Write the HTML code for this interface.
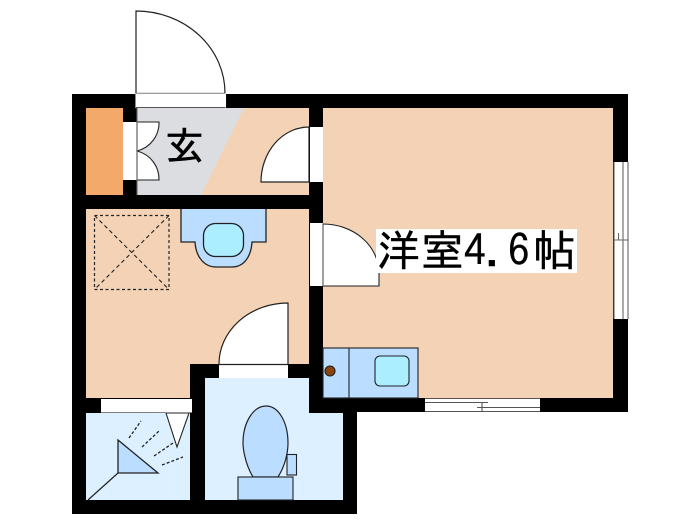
<!DOCTYPE html>
<html><head><meta charset="utf-8"><style>
html,body{margin:0;padding:0;background:#fff}
svg{display:block}
text{font-family:"Liberation Sans","IPAGothic","Noto Sans CJK JP",sans-serif}
</style></head><body>
<svg width="700" height="525" viewBox="0 0 700 525" xmlns="http://www.w3.org/2000/svg">
<rect width="700" height="525" fill="#fff"/>
<!-- walls -->
<polygon points="72,94 628,94 628,412 357,412 357,514 72,514" fill="#000"/>
<!-- rooms -->
<rect x="86" y="108" width="37" height="87" fill="#f3a96a"/>
<rect x="137" y="108" width="172" height="87" fill="#f3d2b5"/>
<polygon points="137,108 244,108 201,195 137,195" fill="#dcdde0"/>
<polygon points="86,209 309,209 309,364 190,364 190,398 86,398" fill="#f3d2b5"/>
<rect x="323" y="108" width="290" height="290" fill="#f3d2b5"/>
<rect x="86" y="413" width="104" height="87" fill="#ddf0ff"/>
<polygon points="205,378 309,378 309,413 343,413 343,500 205,500" fill="#ddf0ff"/>
<g stroke="#222" fill="none" stroke-width="1.100">
<!-- entrance door -->
<path d="M136,93.500 V11 A89,82 0 0 1 225,93.500 Z" fill="#fff" stroke-width="1.200"/>
<rect x="136" y="94" width="89.500" height="13.500" fill="#fff" stroke="#fff"/>
<path d="M136,107.500 H225.500" stroke="#555"/>
<!-- closet door -->
<rect x="123" y="122" width="14" height="58" fill="#fff" stroke="none"/>
<path d="M137,122 H159 A29,29 0 0 1 137,151 Z" fill="#fff"/>
<path d="M137,180 H159 A29,29 0 0 0 137,151 Z" fill="#fff"/>
<path d="M137,108 V195" stroke="#666"/>
<!-- hall door -->
<rect x="310" y="127" width="13" height="55" fill="#fff" stroke="none"/>
<path d="M309,127 A48,55 0 0 0 261,182 H309 Z" fill="#fff" stroke-width="1.200"/>
<!-- room door -->
<rect x="310" y="223" width="13" height="63" fill="#fff" stroke="none"/>
<path d="M323,224 A56,49 0 0 1 379,273 V286 H323 Z" fill="#fff"/>
<path d="M323,224 V286" stroke="#666"/>
<!-- washroom door -->
<rect x="219" y="365" width="69" height="13" fill="#fff" stroke="none"/>
<path d="M288,303 A69,61 0 0 0 219,364.500 H288 Z" fill="#fff" stroke-width="1.200"/>
<!-- bath door -->
<rect x="101" y="399" width="91" height="13.500" fill="#fff" stroke="none"/>
<!-- vanity -->
<path d="M181,209 V242 H195 C196,258 205,267 216,267 H232 C243,267 251,258 252,242 H266 V209" fill="#bbddff" stroke-width="1.300"/>
<rect x="203.500" y="223.500" width="40" height="33" rx="12" fill="#aaeeff" stroke-width="1.300"/>
<!-- wash place -->
<rect x="94.500" y="215.500" width="74.500" height="74" stroke-dasharray="3 2.500" stroke-width="1.200"/>
<path d="M94.500,215.500 L169,289.500 M169,215.500 L94.500,289.500" stroke-dasharray="4 3" stroke-width="1.100"/>
<!-- kitchen -->
<rect x="323" y="348" width="95" height="50" fill="#bbddff"/>
<path d="M349,348 V398"/>
<rect x="375" y="356" width="34" height="30" rx="5" fill="#aaeeff"/>
<circle cx="330" cy="371" r="5" fill="#8b4510"/>
<!-- bath -->
<polygon points="118,440 118,473 158,473" fill="#bbddff" stroke-width="1.300"/>
<path d="M118,473 L88,500" stroke-width="1.200"/>
<polygon points="166,413 177,447 189,413" fill="#fff"/>
<path d="M129,438 L141,421 M142,447 L159,431 M154,456 L173,443 M162,465 L183,457" stroke-dasharray="3 2" stroke-width="1.300"/>
<!-- toilet -->
<path d="M253,477 C244,462 243,446 243,443 C243,423 253,406 266,406 C279,406 288,423 288,443 C288,453 285,466 278,477 Z" fill="#bbddff" stroke-width="1.200"/>
<rect x="238" y="477" width="55" height="23" fill="#bbddff"/>
<rect x="287" y="454.500" width="9.500" height="20.500" fill="#bbddff"/>
<!-- windows -->
<rect x="614" y="162" width="14" height="157" fill="#fff" stroke="none"/>
<path d="M614,162 V319 M623,162 V319 M628,162 V319 M614,240 H628 M618.500,233 V240 M623,240 V249" stroke="#666"/>
<rect x="425" y="398.500" width="115" height="13.500" fill="#fff" stroke="none"/>
<path d="M425,398.500 H540 M425,402.500 H488 M477,407.500 H540 M425,411.500 H540 M482,402 V411" stroke="#555"/>
</g>
<!-- labels -->
<text x="184.500" y="160" font-size="39" text-anchor="middle" fill="#000" stroke="#000" stroke-width="0.600" style="font-family:'IPAGothic','Noto Sans CJK JP',sans-serif">玄</text>
<rect x="376" y="229" width="201" height="44" fill="#fff"/>
<text x="377 421 464 485 508 533" y="266" font-size="43" fill="#000" stroke="#000" stroke-width="0.400" style="font-family:'IPAGothic','Noto Sans CJK JP',sans-serif">洋室4.6帖</text>
</svg>
</body></html>
